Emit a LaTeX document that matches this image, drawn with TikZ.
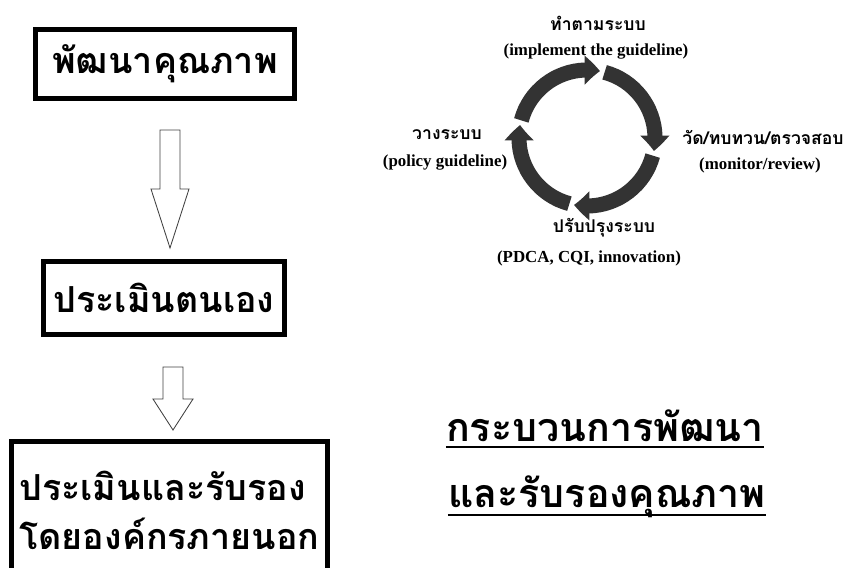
\documentclass[tikz,border=0pt]{standalone}
\usepackage{fontspec}
\setmainfont{Liberation Serif}
\newfontfamily\thaifont[Script=Thai]{Loma}
\usetikzlibrary{arrows.meta,bending,calc}
\definecolor{ringgray}{HTML}{333333}
\begin{document}
\begin{tikzpicture}[
        x=0.025cm, y=0.025cm,
        stepbox/.style={draw, line width=3.6pt, inner sep=0pt,
            font=\thaifont\bfseries\fontsize{25.5}{35}\selectfont},
        downarrow/.style={draw=black!75, line width=0.6pt, fill=white},
        cycarrow/.style={ringgray, line width=10.7pt,
            -{Triangle[bend,width=20pt,length=11pt]}},
        thlabel/.style={font=\thaifont\bfseries\fontsize{12.5}{14}\selectfont},
        enlabel/.style={font=\bfseries\fontsize{12}{14}\selectfont},
        title/.style={anchor=base, inner sep=0pt,
            font=\thaifont\bfseries\fontsize{28}{34}\selectfont},
        uline/.style={line width=1.8pt}
    ]
    \useasboundingbox (0,0) rectangle (850,567);
    \clip (0,0) rectangle (850,567);

    \node[stepbox, minimum width=6.475cm, minimum height=1.725cm] (dev) at (165,503) {พัฒนาคุณภาพ};
    \node[stepbox, minimum width=6.025cm, minimum height=1.825cm] (self) at (164,269) {ประเมินตนเอง};
    \node[stepbox, minimum width=7.9cm, minimum height=3.4125cm, align=left] (ext) at (169.5,57) {ประเมินและรับรอง\\โดยองค์กรภายนอก};

    \draw[downarrow] (160,437) -- (160,378) -- (151,378) -- (170,319)
        -- (189,378) -- (180,378) -- (180,437) -- cycle;
    \draw[downarrow] (163,200) -- (163,168) -- (153,168) -- (173,137)
        -- (193,168) -- (183,168) -- (183,200) -- cycle;

    \coordinate (cyc) at (587,429);
    \foreach \a in {165,75,-15,-105}
        \draw[cycarrow] ($(cyc)+(\a:68)$) arc[start angle=\a, end angle=\a-86, radius=68];

    \node[thlabel] (doTH) at (598,544) {ทำตามระบบ};
    \node[enlabel] (doEN) at (596,515) {(implement the guideline)};
    \node[thlabel] (planTH) at (447,432) {วางระบบ};
    \node[enlabel] (planEN) at (445,404) {(policy guideline)};
    \node[thlabel] (checkTH) at (763,430) {วัด/ทบทวน/ตรวจสอบ};
    \node[enlabel] (checkEN) at (760,402) {(monitor/review)};
    \node[thlabel] (actTH) at (604,339) {ปรับปรุงระบบ};
    \node[enlabel] (actEN) at (589,309) {(PDCA, CQI, innovation)};

    \node[title] (ttl1) at (605,125) {กระบวนการพัฒนา};
    \node[title] (ttl2) at (607,59) {และรับรองคุณภาพ};
    \draw[uline] ($(ttl1.base west)+(0,-5)$) -- ($(ttl1.base east)+(0,-5)$);
    \draw[uline] ($(ttl2.base west)+(0,-7)$) -- ($(ttl2.base east)+(0,-7)$);
\end{tikzpicture}
\end{document}
